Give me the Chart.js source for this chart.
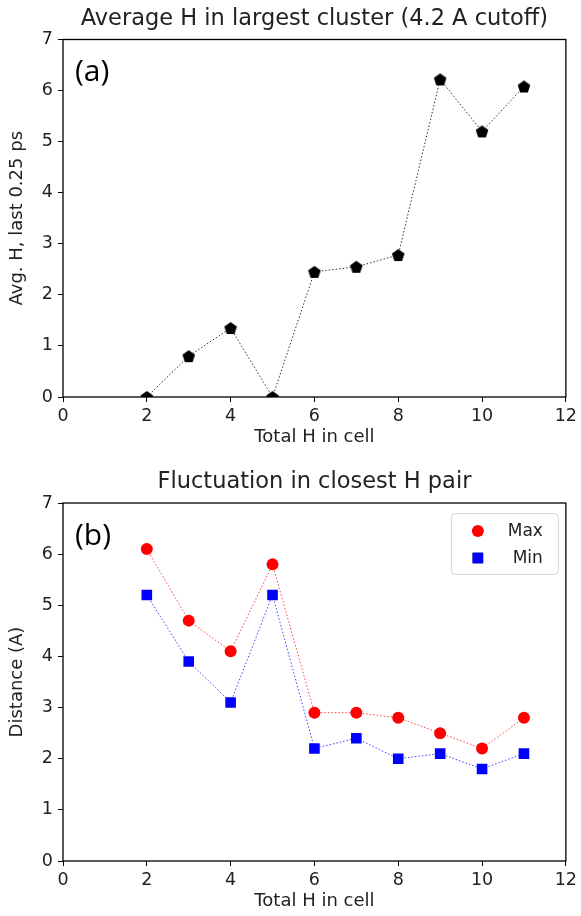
<!DOCTYPE html>
<html>
<head>
<meta charset="utf-8">
<script src="https://cdn.jsdelivr.net/npm/chart.js@4/dist/chart.umd.min.js"></script>
<style>
  body { margin: 0; background: #fff; }
  .box { width: 581px; height: 458px; }
</style>
</head>
<body>
<div class="box"><canvas id="cluster-chart" width="581" height="458"></canvas></div>
<div class="box"><canvas id="pair-chart" width="581" height="458"></canvas></div>
<script>
const totalH = [2, 3, 4, 5, 6, 7, 8, 9, 10, 11];
const avgH = [0, 0.8, 1.35, 0, 2.45, 2.55, 2.78, 6.22, 5.2, 6.08];
const maxDist = [6.1, 4.7, 4.1, 5.8, 2.9, 2.9, 2.8, 2.5, 2.2, 2.8];
const minDist = [5.2, 3.9, 3.1, 5.2, 2.2, 2.4, 2.0, 2.1, 1.8, 2.1];
const xRange = [0, 12];
const yRange = [0, 7];

const FONT = "'DejaVu Sans', sans-serif";
const INK = '#222';

// matplotlib-ish pentagon marker
const pentagon = document.createElement('canvas');
pentagon.width = 14; pentagon.height = 14;
(() => {
  const c = pentagon.getContext('2d');
  c.fillStyle = '#000';
  c.beginPath();
  for (let i = 0; i < 5; i++) {
    const a = -Math.PI / 2 + i * 2 * Math.PI / 5;
    const px = 7 + 6.6 * Math.cos(a), py = 7.6 + 6.6 * Math.sin(a);
    i ? c.lineTo(px, py) : c.moveTo(px, py);
  }
  c.closePath();
  c.fill();
})();

const pts = (ys) => totalH.map((x, i) => ({ x: x, y: ys[i] }));

// box around the axes + panel letter
const framePlugin = {
  id: 'frame',
  afterDatasetsDraw(chart, args, opts) {
    const { ctx, chartArea: a } = chart;
    ctx.save();
    ctx.strokeStyle = '#000';
    ctx.lineWidth = 1.3;
    ctx.strokeRect(a.left, a.top, a.right - a.left, a.bottom - a.top);
    if (opts.label) {
      ctx.fillStyle = '#000';
      ctx.font = "30px 'Open Sans', sans-serif";
      ctx.textBaseline = 'middle';
      ctx.fillText(opts.label, a.left + 12, a.top + 33);
    }
    ctx.restore();
  }
};

// legend drawn inside the axes, top right, like matplotlib
const boxLegend = {
  id: 'boxLegend',
  afterDraw(chart, args, opts) {
    if (!opts.show) return;
    const { ctx, chartArea: a } = chart;
    const sets = chart.data.datasets;
    const w = 107, h = 61;
    const x0 = a.right - 8 - w, y0 = a.top + 10;
    ctx.save();
    ctx.fillStyle = 'rgba(255,255,255,0.8)';
    ctx.strokeStyle = '#d6d6d6';
    ctx.lineWidth = 1;
    ctx.beginPath();
    ctx.roundRect(x0 + 0.5, y0 + 0.5, w, h, 4);
    ctx.fill();
    ctx.stroke();
    ctx.font = '17px ' + FONT;
    ctx.textBaseline = 'middle';
    ctx.textAlign = 'right';
    sets.forEach((ds, i) => {
      const cy = y0 + 18 + i * 27;
      Chart.helpers.drawPoint(ctx, {
        pointStyle: ds.pointStyle, radius: ds.pointRadius, borderWidth: 0
      }, x0 + 27, cy);
      ctx.fillStyle = ds.pointBackgroundColor;
      ctx.fill();
      ctx.fillStyle = INK;
      ctx.fillText(ds.label, x0 + 92, cy + 1);
    });
    ctx.restore();
  }
};

const makeScales = (yTitle) => ({
  x: {
    type: 'linear', min: xRange[0], max: xRange[1],
    afterFit: (s) => { s.height = 55; },
    ticks: { stepSize: 2, color: INK, padding: 4, font: { family: FONT, size: 17.5 } },
    grid: { display: true, drawOnChartArea: false, drawTicks: true, tickLength: 5, color: '#000', lineWidth: 1 },
    border: { display: false },
    title: { display: true, text: 'Total H in cell', color: INK, padding: { top: 3 }, font: { family: FONT, size: 18 } }
  },
  y: {
    type: 'linear', min: yRange[0], max: yRange[1],
    afterFit: (s) => { s.width = 63; },
    ticks: { stepSize: 1, color: INK, padding: 5, font: { family: FONT, size: 17.5 } },
    grid: { display: true, drawOnChartArea: false, drawTicks: true, tickLength: 5, color: '#000', lineWidth: 1 },
    border: { display: false },
    title: { display: true, text: yTitle, color: INK, padding: { top: 7, bottom: 0 }, font: { family: FONT, size: 18 } }
  }
});

const makeTitle = (text, top, bottom) => ({
  display: true, text: text, color: INK, fullSize: false,
  font: { family: FONT, size: 22.5, weight: 'normal' },
  padding: { top: top, bottom: bottom }
});

const clusterChart = new Chart(document.getElementById('cluster-chart'), {
  type: 'line',
  data: {
    datasets: [{
      label: 'Avg H',
      data: pts(avgH),
      borderColor: '#333',
      borderWidth: 1,
      borderDash: [1.5, 2],
      pointStyle: pentagon,
      pointRadius: 7,
      tension: 0
    }]
  },
  options: {
    responsive: false,
    animation: false,
    layout: { padding: { left: 0, right: 14, top: 0, bottom: 6 } },
    scales: makeScales('Avg. H, last 0.25 ps'),
    plugins: {
      legend: { display: false },
      tooltip: { enabled: false },
      title: makeTitle('Average H in largest cluster (4.2 A cutoff)', 6, 6.5),
      frame: { label: '(a)' }
    }
  },
  plugins: [framePlugin]
});

const pairChart = new Chart(document.getElementById('pair-chart'), {
  type: 'line',
  data: {
    datasets: [{
      label: 'Max',
      data: pts(maxDist),
      borderColor: 'rgba(255,0,0,0.75)',
      borderWidth: 1,
      borderDash: [1.5, 2],
      pointStyle: 'circle',
      pointRadius: 6,
      pointBackgroundColor: '#ff0000',
      pointBorderWidth: 0,
      tension: 0
    }, {
      label: 'Min',
      data: pts(minDist),
      borderColor: 'rgba(0,0,255,0.75)',
      borderWidth: 1,
      borderDash: [1.5, 2],
      pointStyle: 'rect',
      pointRadius: 7.5,
      pointBackgroundColor: '#0000ff',
      pointBorderWidth: 0,
      tension: 0
    }]
  },
  options: {
    responsive: false,
    animation: false,
    layout: { padding: { left: 0, right: 14, top: 0, bottom: 0 } },
    scales: makeScales('Distance (A)'),
    plugins: {
      legend: { display: false },
      tooltip: { enabled: false },
      title: makeTitle('Fluctuation in closest H pair', 11, 7),
      frame: { label: '(b)' },
      boxLegend: { show: true }
    }
  },
  plugins: [framePlugin, boxLegend]
});
</script>
</body>
</html>
